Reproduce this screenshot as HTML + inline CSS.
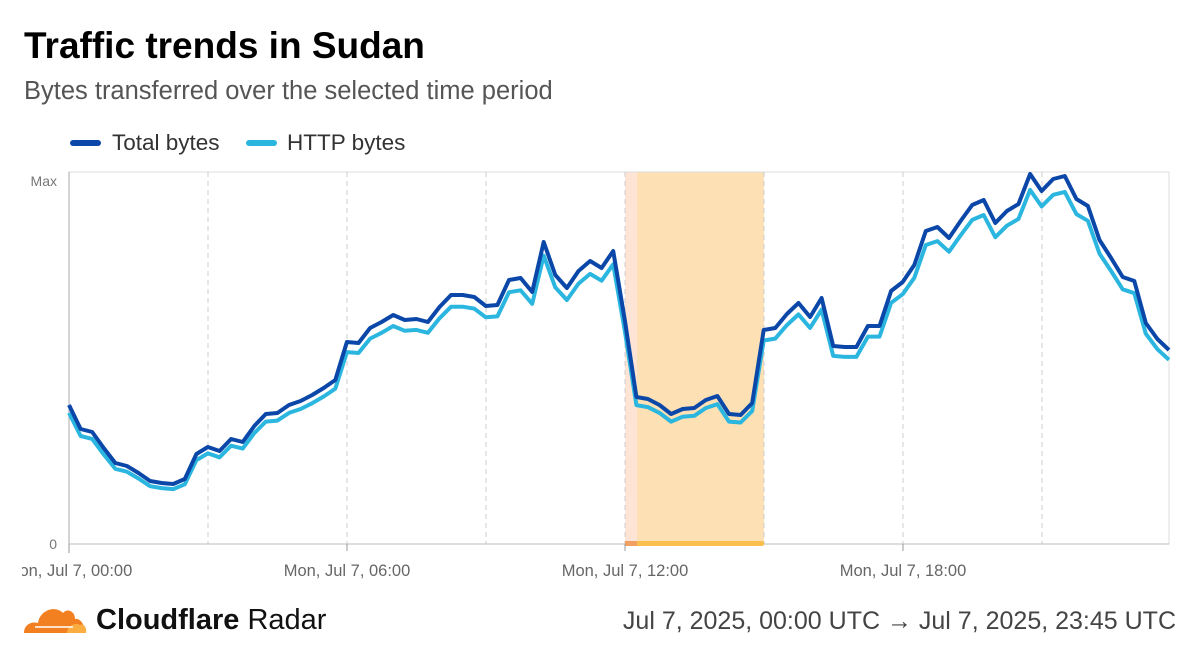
<!DOCTYPE html>
<html><head><meta charset="utf-8"><style>
body{margin:0;width:1200px;height:658px;background:#fff;font-family:"Liberation Sans",sans-serif;overflow:hidden;position:relative}
.t{position:absolute;white-space:nowrap}
</style></head><body>
<div class="t" style="left:24px;top:25px;font-size:37px;font-weight:bold;color:#000">Traffic trends in Sudan</div>
<div class="t" style="left:24px;top:77px;font-size:25.5px;color:#555">Bytes transferred over the selected time period</div>
<svg width="1200" height="658" style="position:absolute;left:0;top:0" id="s">
<defs><clipPath id="c"><rect x="22" y="0" width="1178" height="658"/></clipPath></defs>
<line x1="73" y1="143" x2="98" y2="143" stroke="#0a47a8" stroke-width="6" stroke-linecap="round"/>
<text x="112" y="150" font-size="22.5" fill="#333">Total bytes</text>
<line x1="249" y1="143" x2="274" y2="143" stroke="#2bb6e0" stroke-width="6" stroke-linecap="round"/>
<text x="287" y="150" font-size="22.5" fill="#333">HTTP bytes</text>
<rect x="625" y="172" width="139" height="372" fill="#fde0b4"/>
<rect x="625" y="172" width="12" height="372" fill="#fde4d4"/>
<rect x="69" y="172" width="1100" height="372" fill="none" stroke="#ddd"/>
<g stroke="#ccc" stroke-dasharray="5,4">
<line x1="208" y1="172" x2="208" y2="544"/><line x1="347" y1="172" x2="347" y2="544"/><line x1="486" y1="172" x2="486" y2="544"/><line x1="625" y1="172" x2="625" y2="544"/><line x1="764" y1="172" x2="764" y2="544"/><line x1="903" y1="172" x2="903" y2="544"/><line x1="1042" y1="172" x2="1042" y2="544"/>
</g>
<line x1="69" y1="172" x2="69" y2="544" stroke="#aaa"/>
<line x1="69" y1="544" x2="1169" y2="544" stroke="#bbb"/>
<rect x="625" y="541" width="139" height="5" rx="2" fill="#fbbf4d"/>
<rect x="625" y="541" width="12" height="5" fill="#f0a060"/>
<g stroke="#999"><line x1="69" y1="544" x2="69" y2="553"/><line x1="347" y1="544" x2="347" y2="551"/><line x1="625" y1="544" x2="625" y2="551"/><line x1="903" y1="544" x2="903" y2="551"/></g>
<text x="57" y="186" font-size="14" fill="#777" text-anchor="end">Max</text>
<text x="57" y="549" font-size="14" fill="#777" text-anchor="end">0</text>
<g font-size="16.5" fill="#666" text-anchor="middle" clip-path="url(#c)">
<text x="69" y="576">Mon, Jul 7, 00:00</text><text x="347" y="576">Mon, Jul 7, 06:00</text><text x="625" y="576">Mon, Jul 7, 12:00</text><text x="903" y="576">Mon, Jul 7, 18:00</text>
</g>
<polyline id="l" fill="none" stroke="#2bb6e0" stroke-width="4" stroke-linejoin="round"/>
<polyline id="d" fill="none" stroke="#0a47a8" stroke-width="4" stroke-linejoin="round"/>
<g transform="translate(23,603)">
<path d="M1 30 C1 22 8 18 15 20 C17 7 32 2 40 10 C44 5 52 8 52 16 C56 15 62 20 62 30 Z" fill="#f38020"/>
<path d="M44 30 C44 23 52 19 57 22 C61 20 64 25 63 30 Z" fill="#fbad41"/>
<path d="M12 24 L50 24" stroke="#fff" stroke-width="1.5"/>
</g>
<text x="96" y="629" font-size="29" font-weight="bold" fill="#111">Cloudflare <tspan font-weight="normal">Radar</tspan></text>
<text x="1176" y="629" font-size="25" fill="#444" text-anchor="end">Jul 7, 2025, 00:00 UTC → Jul 7, 2025, 23:45 UTC</text>
</svg>
<script>
var d=[405,429,432,448,463,466,473,481,483,484,479,454,447,451,439,442,426,414,413,405,401,395,388,380,342,343,328,322,315,320,319,322,307,295,295,297,306,305,280,278,292,242,275,288,271,261,268,251,320,397,399,405,414,409,408,400,396,414,415,403,330,328,314,303,317,298,346,347,347,326,326,291,282,265,231,227,238,221,205,200,223,211,204,174,191,179,176,199,206,240,258,277,281,323,339,350];
var a=[],b=[];
for(var i=0;i<d.length;i++){var x=69+i*1100/95;a.push(x.toFixed(1)+","+d[i]);var o=3+(544-d[i])*0.035;b.push(x.toFixed(1)+","+(d[i]+o).toFixed(1));}
document.getElementById("d").setAttribute("points",a.join(" "));
document.getElementById("l").setAttribute("points",b.join(" "));
</script>
</body></html>
